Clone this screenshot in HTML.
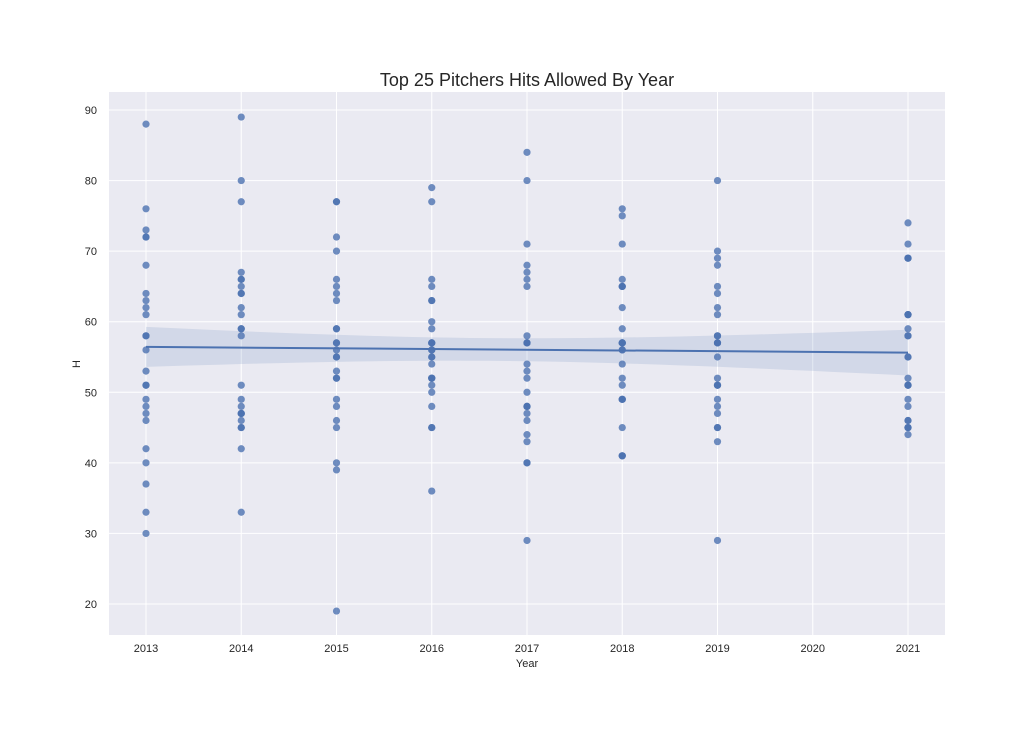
<!DOCTYPE html>
<html><head><meta charset="utf-8"><style>
body{margin:0;background:#fff;}
svg{display:block;font-family:"Liberation Sans",Arial,sans-serif;}
</style></head><body>
<svg id="chart" width="1016" height="741">
<rect x="0" y="0" width="1016" height="741" fill="#fff"/>
<rect x="109" y="92" width="836" height="543" fill="#eaeaf2"/>
<g id="grid"></g>
<g id="band"></g>
<g id="pts"></g>
<g id="line"></g>
<g id="labels"></g>
<text x="527" y="86" text-anchor="middle" font-size="18" fill="#262626">Top 25 Pitchers Hits Allowed By Year</text>
<text x="527" y="667" text-anchor="middle" font-size="11" fill="#262626">Year</text>
<text x="80" y="364" text-anchor="middle" font-size="11" fill="#262626" transform="rotate(-90 80 364)">H</text>
</svg>
<script>
const years=[2013,2014,2015,2016,2017,2018,2019,2021];
const hits2013=[88,76,73,72,72,68,64,63,62,61,58,58,56,53,51,51,49,48,47,46,42,40,37,33,30];
const hits2014=[89,80,77,67,66,66,65,64,64,62,61,59,59,58,51,49,48,47,47,47,46,45,45,42,33];
const hits2015=[77,77,72,70,66,65,64,63,59,59,57,57,56,55,55,53,52,52,49,48,46,45,40,39,19];
const hits2016=[79,77,66,65,63,63,60,59,57,57,56,56,55,55,54,52,52,52,51,50,48,45,45,36,57];
const hits2017=[84,80,71,68,67,66,65,58,57,57,57,54,53,52,50,48,48,48,47,46,44,43,40,40,29];
const hits2018=[76,75,71,66,65,65,65,62,59,57,57,57,56,56,54,52,51,49,49,49,45,41,41,41,57];
const hits2019=[80,70,69,68,65,64,62,61,58,58,57,57,57,55,52,51,51,51,49,48,47,45,45,43,29];
const hits2021=[74,71,69,69,69,61,61,61,59,58,58,55,55,52,51,51,51,49,48,46,46,45,45,45,44];
const allHits=[hits2013,hits2014,hits2015,hits2016,hits2017,hits2018,hits2019,hits2021];
const xTicks=[2013,2014,2015,2016,2017,2018,2019,2020,2021];
const yTicks=[20,30,40,50,60,70,80,90];

const NS="http://www.w3.org/2000/svg";
const xs=v=>146+(v-2013)*95.25;
const ys=v=>110+(90-v)*7.057;
function mk(tag,attrs,parent){const e=document.createElementNS(NS,tag);for(const k in attrs)e.setAttribute(k,attrs[k]);document.getElementById(parent).appendChild(e);return e;}

xTicks.forEach(t=>{
  const l=mk('line',{x1:xs(t),x2:xs(t),y1:92,y2:635,stroke:'#fff','stroke-width':1},'grid');
  
  
  const tx=mk('text',{x:xs(t),y:652,'text-anchor':'middle','font-size':11,fill:'#262626'},'labels');
  tx.textContent=t;
  
  
});
yTicks.forEach(t=>{
  const l=mk('line',{x1:109,x2:945,y1:ys(t),y2:ys(t),stroke:'#fff','stroke-width':1},'grid');
  
  
  const tx=mk('text',{x:97,y:ys(t)+4,'text-anchor':'end','font-size':11,fill:'#262626'},'labels');
  tx.textContent=t;
  
  
});

// regression
const X=[],Y=[];
years.forEach((yr,i)=>allHits[i].forEach(h=>{X.push(yr);Y.push(h);}));
const n=X.length,mx=X.reduce((a,b)=>a+b)/n,my=Y.reduce((a,b)=>a+b)/n;
let sxx=0,sxy=0;for(let i=0;i<n;i++){sxx+=(X[i]-mx)**2;sxy+=(X[i]-mx)*(Y[i]-my);}
const b=sxy/sxx,a=my-b*mx;
let sse=0;for(let i=0;i<n;i++)sse+=(Y[i]-a-b*X[i])**2;
const s=Math.sqrt(sse/(n-2));
const x0=2013,x1=2021,steps=40;
let up=[],dn=[];
for(let k=0;k<=steps;k++){const x=x0+(x1-x0)*k/steps;const yh=a+b*x;const h=1.97*s*Math.sqrt(1/n+(x-mx)**2/sxx);
up.push(xs(x)+','+ys(yh+h));dn.unshift(xs(x)+','+ys(yh-h));}
const bp=mk('polygon',{points:up.concat(dn).join(' '),fill:'#4c72b0','fill-opacity':0.15},'band');



years.forEach((yr,i)=>allHits[i].forEach(h=>{
  const c=mk('circle',{cx:xs(yr),cy:ys(h),r:3.6,fill:'#4c72b0','fill-opacity':0.8},'pts');
  
  
}));
const rl=mk('line',{x1:xs(x0),y1:ys(a+b*x0),x2:xs(x1),y2:ys(a+b*x1),stroke:'#4c72b0','stroke-width':2},'line');


</script>
</body></html>
